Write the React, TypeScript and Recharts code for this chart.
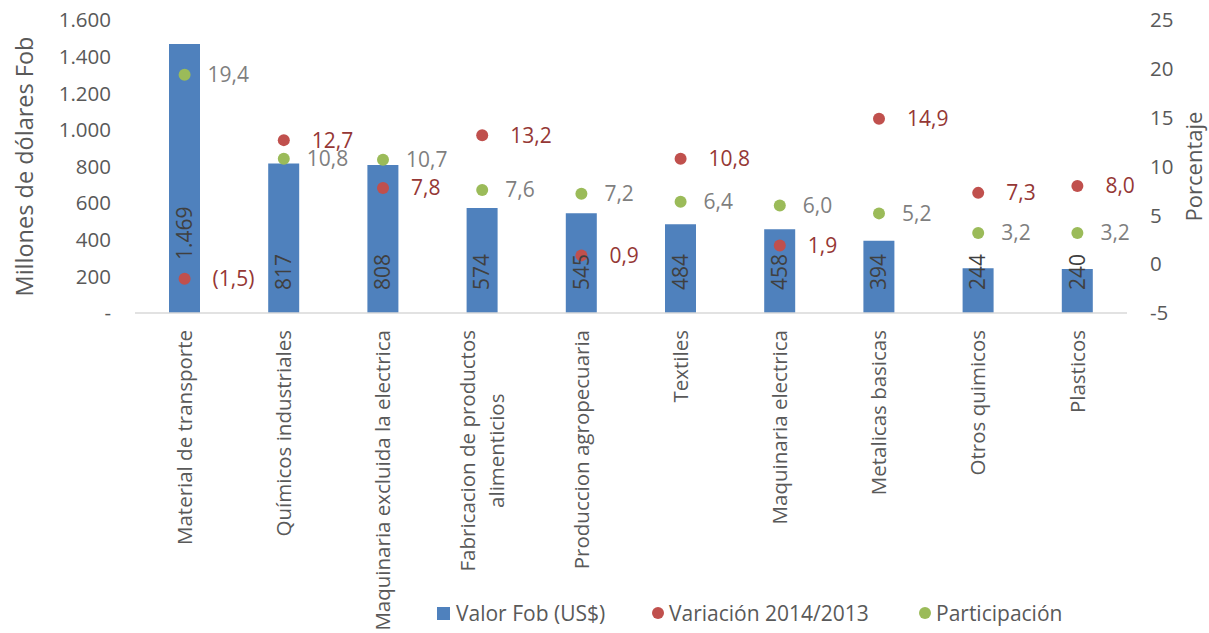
import React, { useLayoutEffect, useRef, useState } from 'react';
import { ComposedChart, Bar, Line, XAxis, YAxis, Legend, LabelList, Label } from 'recharts';

const categories = [
  'Material de transporte',
  'Químicos industriales',
  'Maquinaria excluida la electrica',
  'Fabricacion de productos\nalimenticios',
  'Produccion agropecuaria',
  'Textiles',
  'Maquinaria electrica',
  'Metalicas basicas',
  'Otros quimicos',
  'Plasticos',
];
const valorFob = [1469, 817, 808, 574, 545, 484, 458, 394, 244, 240];
const variacion = [-1.5, 12.7, 7.8, 13.2, 0.9, 10.8, 1.9, 14.9, 7.3, 8.0];
const participacion = [19.4, 10.8, 10.7, 7.6, 7.2, 6.4, 6.0, 5.2, 3.2, 3.2];
const leftTicks = [0, 200, 400, 600, 800, 1000, 1200, 1400, 1600];
const rightTicks = [-5, 0, 5, 10, 15, 20, 25];
const seriesNames = ['Valor Fob (US$)', 'Variación 2014/2013', 'Participación'];

const data = categories.map((c, i) => ({
  name: c,
  valor: valorFob[i],
  variacion: variacion[i],
  participacion: participacion[i],
}));

const FONT = "'Open Sans', sans-serif";
const AXIS_TEXT = '#595959';
const BLUE = '#4F81BD';
const RED = '#C0504D';
const GREEN = '#9BBB59';

const thousands = (v: number) => String(v).replace(/\B(?=(\d{3})+(?!\d))/g, '.');
const leftFmt = (v: number) => (v === 0 ? '-' : thousands(v));
const pctFmt = (v: number) => (v < 0 ? `(${Math.abs(v).toFixed(1).replace('.', ',')})` : v.toFixed(1).replace('.', ','));

const XTick = (props: any) => {
  const { x, y, payload } = props;
  const lines = String(payload.value).split('\n');
  const ref = useRef<SVGTextElement>(null);
  const [len, setLen] = useState(0);
  useLayoutEffect(() => {
    if (ref.current) setLen(ref.current.getComputedTextLength());
  }, [payload.value]);
  const lh = 29;
  return (
    <g transform={`translate(${x},${y + 17}) rotate(-90)`}>
      {lines.map((ln, i) => (
        <text
          key={i}
          ref={i === 0 ? ref : undefined}
          x={i === 0 ? 0 : -len / 2}
          y={(i - (lines.length - 1) / 2) * lh}
          dy="0.35em"
          textAnchor={i === 0 ? 'end' : 'middle'}
          fill={AXIS_TEXT}
          fontSize={20.5}
          fontFamily={FONT}
        >
          {ln}
        </text>
      ))}
    </g>
  );
};

const BarValueLabel = (props: any) => {
  const { x, y, width, height, value, index } = props;
  const lift = index === 0 ? 53 : 23;
  const cx = Number(x) + Number(width) / 2;
  const by = Number(y) + Number(height) - lift;
  return (
    <text
      transform={`translate(${cx},${by}) rotate(-90)`}
      textAnchor="start"
      dy="0.35em"
      fill="#404040"
      fontSize={21}
      fontFamily={FONT}
    >
      {thousands(Number(value))}
    </text>
  );
};

const LegendContent = () => (
  <div style={{ position: 'relative', width: 1209, height: 40, fontFamily: FONT, fontSize: 21, color: AXIS_TEXT }}>
    <div style={{ position: 'absolute', left: 437, top: 0, height: 40, display: 'flex', alignItems: 'center' }}>
      <span style={{ display: 'inline-block', width: 13, height: 13, background: BLUE, marginRight: 6 }} />
      <span>{seriesNames[0]}</span>
    </div>
    <div style={{ position: 'absolute', left: 652, top: 0, height: 40, display: 'flex', alignItems: 'center' }}>
      <span style={{ display: 'inline-block', width: 12, height: 12, borderRadius: 6, background: RED, marginRight: 5 }} />
      <span>{seriesNames[1]}</span>
    </div>
    <div style={{ position: 'absolute', left: 919, top: 0, height: 40, display: 'flex', alignItems: 'center' }}>
      <span style={{ display: 'inline-block', width: 12, height: 12, borderRadius: 6, background: GREEN, marginRight: 5 }} />
      <span>{seriesNames[2]}</span>
    </div>
  </div>
);

const LeftTitle = (props: any) => {
  const vb = props.viewBox || {};
  const cy = vb.y + vb.height / 2;
  return (
    <text
      transform={`translate(25,${cy}) rotate(-90)`}
      textAnchor="middle"
      dy="0.35em"
      fill={AXIS_TEXT}
      fontSize={23.5}
      fontFamily={FONT}
    >
      Millones de dólares Fob
    </text>
  );
};

const RightTitle = (props: any) => {
  const vb = props.viewBox || {};
  const cy = vb.y + vb.height / 2;
  return (
    <text
      transform={`translate(1194,${cy}) rotate(-90)`}
      textAnchor="middle"
      dy="0.35em"
      fill={AXIS_TEXT}
      fontSize={22}
      fontFamily={FONT}
    >
      Porcentaje
    </text>
  );
};

export default function App() {
  return (
    <div style={{ position: 'absolute', left: 0, top: 0, width: 1209, height: 633, background: '#fff' }}>
      <ComposedChart width={1209} height={633} data={data} margin={{ top: 20, right: 0, bottom: 0, left: 0 }}>
        <XAxis
          dataKey="name"
          xAxisId="x"
          interval={0}
          height={280}
          tickLine={false}
          tickSize={0}
          tickMargin={0}
          axisLine={{ stroke: '#D9D9D9', strokeWidth: 1.5 }}
          tick={<XTick />}
        />
        <YAxis
          yAxisId="left"
          orientation="left"
          width={135}
          domain={[0, 1600]}
          ticks={leftTicks}
          tickFormatter={leftFmt}
          axisLine={false}
          tickLine={false}
          tickMargin={18}
          tick={{ fill: AXIS_TEXT, fontSize: 20.5, fontFamily: FONT }}
        >
          <Label content={<LeftTitle />} />
        </YAxis>
        <YAxis
          yAxisId="right"
          orientation="right"
          width={82}
          domain={[-5, 25]}
          ticks={rightTicks}
          axisLine={false}
          tickLine={false}
          tickMargin={17}
          tick={{ fill: AXIS_TEXT, fontSize: 20.5, fontFamily: FONT, textAnchor: 'start' }}
        >
          <Label content={<RightTitle />} />
        </YAxis>
        <Legend verticalAlign="bottom" content={<LegendContent />} wrapperStyle={{ left: 0, width: 1209 }} />
        <Bar
          xAxisId="x"
          yAxisId="left"
          dataKey="valor"
          name={seriesNames[0]}
          fill={BLUE}
          barSize={31}
          isAnimationActive={false}
        >
          <LabelList dataKey="valor" content={<BarValueLabel />} />
        </Bar>
        <Line
          xAxisId="x"
          yAxisId="right"
          dataKey="variacion"
          name={seriesNames[1]}
          stroke="none"
          dot={{ r: 6, fill: RED, stroke: 'none' }}
          activeDot={false}
          isAnimationActive={false}
        >
          <LabelList
            dataKey="variacion"
            position="right"
            offset={28}
            formatter={(v: any) => pctFmt(Number(v))}
            fill="#953735"
            fontSize={21}
            fontFamily={FONT}
          />
        </Line>
        <Line
          xAxisId="x"
          yAxisId="right"
          dataKey="participacion"
          name={seriesNames[2]}
          stroke="none"
          dot={{ r: 6, fill: GREEN, stroke: 'none' }}
          activeDot={false}
          isAnimationActive={false}
        >
          <LabelList
            dataKey="participacion"
            position="right"
            offset={23}
            formatter={(v: any) => pctFmt(Number(v))}
            fill="#7F7F7F"
            fontSize={21}
            fontFamily={FONT}
          />
        </Line>
      </ComposedChart>
    </div>
  );
}
